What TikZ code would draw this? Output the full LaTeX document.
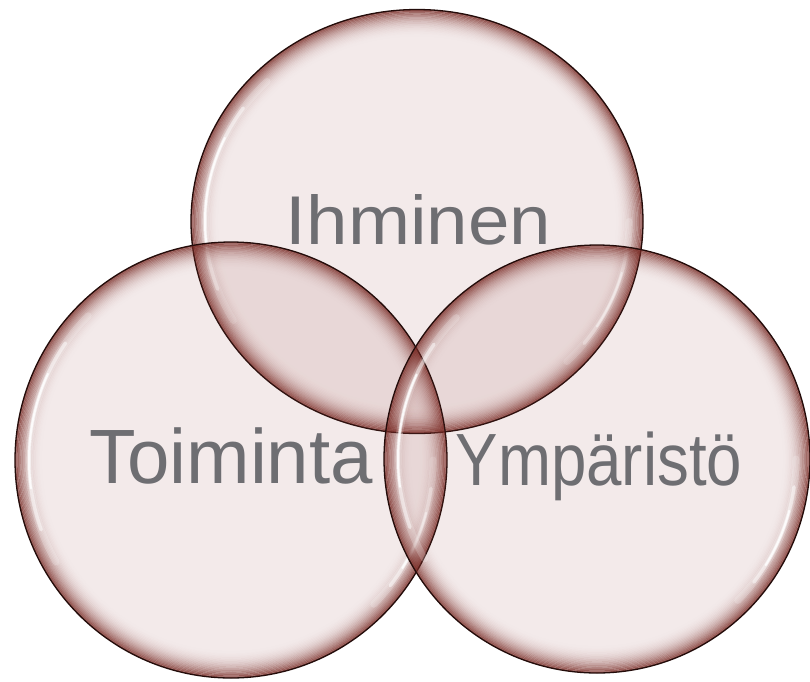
\documentclass[tikz,border=0pt]{standalone}
\usepackage{fontspec}
\setmainfont{Liberation Sans}
\definecolor{rimc}{RGB}{120,42,36}
\definecolor{basec}{RGB}{150,70,65}
\definecolor{txtc}{RGB}{110,110,114}
\definecolor{edgec}{RGB}{35,12,10}
\newcommand{\vennbubble}[4]{%
  \fill[basec, fill opacity=0.11] (#1,#2) ellipse [x radius=#3, y radius=#4];
  \foreach \i in {0,...,21} {
    \pgfmathsetmacro{\ra}{#3-\i*1.3}
    \pgfmathsetmacro{\rb}{#4-\i*1.3}
    \pgfmathsetmacro{\rc}{#3-(\i+1)*1.3}
    \pgfmathsetmacro{\rd}{#4-(\i+1)*1.3}
    \pgfmathsetmacro{\op}{0.8*(1-\i/22)^2.5}
    \fill[rimc, fill opacity=\op, even odd rule]
      (#1,#2) ellipse [x radius=\ra, y radius=\rb]
      (#1,#2) ellipse [x radius=\rc, y radius=\rd];
  }
  \pgfmathsetmacro{\hx}{#3-14}
  \pgfmathsetmacro{\hy}{#4-14}
  \foreach \sa/\ea/\lw/\op in {150/225/7/0.2, 160/215/3.5/0.5, 172/205/2/0.85,
                               0/45/7/0.2, 8/38/3.5/0.5, 15/32/2/0.85} {
    \draw[white, line width=\lw, draw opacity=\op, line cap=round]
      ({#1+\hx*cos(\sa)},{#2+\hy*sin(\sa)}) arc [start angle=\sa, end angle=\ea, x radius=\hx, y radius=\hy];
  }
  \draw[edgec, line width=1.3] (#1,#2) ellipse [x radius=#3, y radius=#4];
}
\tikzset{lbl/.style={text=txtc, inner sep=0pt, anchor=base}}
\begin{document}
\begin{tikzpicture}[x=1pt, y=-1pt]
  \useasboundingbox (0,0) rectangle (810,681);
  \fill[white] (0,0) rectangle (810,681);
  \vennbubble{417}{221.5}{226}{212}
  \vennbubble{231}{460}{216}{218}
  \vennbubble{597}{459}{213}{214}
  \node[lbl] (ihm) at (418.5,244) {\scalebox{1.08}[1]{\fontsize{69}{69}\selectfont Ihminen}};
  \node[lbl] (toi) at (231,483) {\scalebox{0.99}[1]{\fontsize{77}{77}\selectfont Toiminta}};
  \node[lbl] (ymp) at (599,485) {\scalebox{0.86}[1]{\fontsize{74}{74}\selectfont Ympäristö}};
\end{tikzpicture}
\end{document}
